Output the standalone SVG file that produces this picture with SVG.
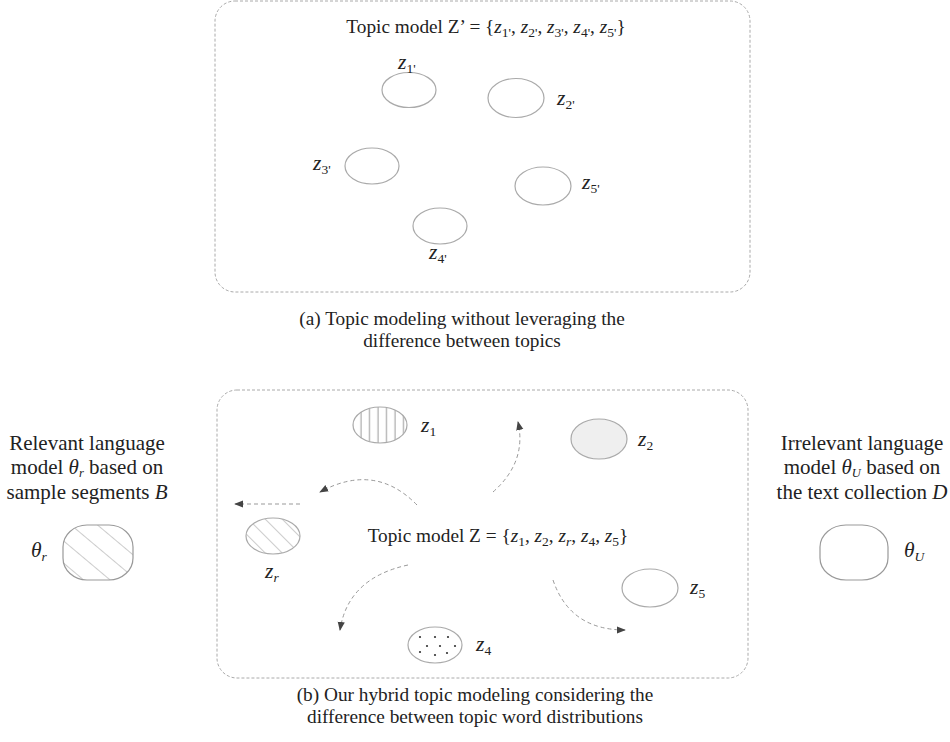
<svg xmlns="http://www.w3.org/2000/svg" width="950" height="742" viewBox="0 0 950 742">
<style>
text{font-family:"Liberation Serif","Times New Roman",serif;fill:#222;font-size:19.3px}
.i{font-style:italic}
.box{fill:none;stroke:#aaa;stroke-width:1;stroke-dasharray:3,2}
.el{fill:#fff;stroke:#aaa;stroke-width:1.2}
.h{stroke:#999;stroke-width:1}
.arr{fill:none;stroke:#999;stroke-width:1;stroke-dasharray:4,3;marker-end:url(#ah)}
.lbl{font-size:21.5px;font-style:italic}
.s{font-size:13.5px}
.ss{font-size:12.5px}
.side{font-size:21px}
</style>
<defs>
<marker id="ah" viewBox="0 0 10 10" refX="9" refY="5" markerWidth="9" markerHeight="9" markerUnits="userSpaceOnUse" orient="auto">
<path d="M0,1 L10,5 L0,9 Z" fill="#444"/>
</marker>
<pattern id="vert" patternUnits="userSpaceOnUse" x="0" y="0" width="8.5" height="10">
<line x1="4" y1="0" x2="4" y2="10" class="h"/>
</pattern>
<pattern id="diag" patternUnits="userSpaceOnUse" width="12" height="12" patternTransform="rotate(-45)">
<line x1="0" y1="0" x2="0" y2="12" class="h"/>
</pattern>
<pattern id="diag2" patternUnits="userSpaceOnUse" width="17" height="17" patternTransform="rotate(-50)">
<line x1="0" y1="0" x2="0" y2="17" class="h"/>
</pattern>
</defs>

<g id="panel-a">
<rect class="box" x="215" y="1" width="535" height="291" rx="20"/>
<text x="486" y="33" text-anchor="middle" font-size="20.5">Topic model Z’ = {<tspan class="i">z</tspan><tspan class="s" dy="4">1'</tspan><tspan dy="-4">, </tspan><tspan class="i">z</tspan><tspan class="s" dy="4">2'</tspan><tspan dy="-4">, </tspan><tspan class="i">z</tspan><tspan class="s" dy="4">3'</tspan><tspan dy="-4">, </tspan><tspan class="i">z</tspan><tspan class="s" dy="4">4'</tspan><tspan dy="-4">, </tspan><tspan class="i">z</tspan><tspan class="s" dy="4">5'</tspan><tspan dy="-4">}</tspan></text>
</g>
<g id="z1p"><ellipse class="el" cx="409" cy="90" rx="27" ry="17.5"/><text class="lbl" x="398" y="69">z<tspan class="s" font-style="normal" dy="4">1'</tspan></text></g>
<g id="z2p"><ellipse class="el" cx="516" cy="98" rx="28" ry="19.5"/><text class="lbl" x="557" y="105">z<tspan class="s" font-style="normal" dy="4">2'</tspan></text></g>
<g id="z3p"><ellipse class="el" cx="372" cy="166" rx="27" ry="18"/><text class="lbl" x="313" y="170">z<tspan class="s" font-style="normal" dy="4">3'</tspan></text></g>
<g id="z5p"><ellipse class="el" cx="543" cy="186" rx="28" ry="19"/><text class="lbl" x="582" y="189">z<tspan class="s" font-style="normal" dy="4">5'</tspan></text></g>
<g id="z4p"><ellipse class="el" cx="440" cy="226" rx="27" ry="18"/><text class="lbl" x="429" y="259">z<tspan class="s" font-style="normal" dy="4">4'</tspan></text></g>
<g id="caption-a">
<text x="462" y="325" text-anchor="middle">(a) Topic modeling without leveraging the</text>
<text x="462" y="347" text-anchor="middle">difference between topics</text>
</g>

<g id="panel-b">
<rect class="box" x="217" y="390" width="531" height="288" rx="20"/>
<text x="498" y="542" text-anchor="middle" font-size="20.5">Topic model Z = {<tspan class="i">z</tspan><tspan class="s" dy="4">1</tspan><tspan dy="-4">, </tspan><tspan class="i">z</tspan><tspan class="s" dy="4">2</tspan><tspan dy="-4">, </tspan><tspan class="i">z</tspan><tspan class="i s" dy="4">r</tspan><tspan dy="-4">, </tspan><tspan class="i">z</tspan><tspan class="s" dy="4">4</tspan><tspan dy="-4">, </tspan><tspan class="i">z</tspan><tspan class="s" dy="4">5</tspan><tspan dy="-4">}</tspan></text>
</g>
<g id="z1"><ellipse cx="380" cy="425" rx="27" ry="18" fill="url(#vert)" stroke="#aaa" stroke-width="1.2"/><text class="lbl" x="421" y="432">z<tspan class="s" font-style="normal" dy="4">1</tspan></text></g>
<g id="z2"><ellipse cx="599" cy="439" rx="28" ry="20" fill="#efefef" stroke="#aaa" stroke-width="1.2"/><text class="lbl" x="638" y="446">z<tspan class="s" font-style="normal" dy="4">2</tspan></text></g>
<g id="zr"><ellipse cx="273" cy="536" rx="27" ry="18" fill="url(#diag)" stroke="#aaa" stroke-width="1.2"/><text class="lbl" x="265" y="578">z<tspan class="s" dy="4">r</tspan></text></g>
<g id="z5"><ellipse class="el" cx="650" cy="588" rx="28" ry="19"/><text class="lbl" x="690" y="594">z<tspan class="s" font-style="normal" dy="4">5</tspan></text></g>
<g id="z4"><ellipse class="el" cx="435" cy="645" rx="27" ry="18"/>
<g fill="#333"><circle cx="420" cy="637" r="1.1"/><circle cx="435" cy="637" r="1.1"/><circle cx="448" cy="637" r="1.1"/><circle cx="427" cy="646" r="1.1"/><circle cx="440" cy="646" r="1.1"/><circle cx="455" cy="646" r="1.1"/><circle cx="420" cy="652" r="1.1"/><circle cx="435" cy="655" r="1.1"/><circle cx="447" cy="653" r="1.1"/></g>
<text class="lbl" x="476" y="651">z<tspan class="s" font-style="normal" dy="4">4</tspan></text></g>

<g id="connectors">
<path class="arr" d="M493,492 Q527,462 518,422"/>
<path class="arr" d="M417,505 Q375,462 320,492"/>
<path class="arr" d="M300,504 L235,504"/>
<path class="arr" d="M408,565 Q348,578 340,630"/>
<path class="arr" d="M553,580 Q570,630 625,630"/>
</g>

<g id="caption-b">
<text x="475" y="701" text-anchor="middle">(b) Our hybrid topic modeling considering the</text>
<text x="475" y="723" text-anchor="middle">difference between topic word distributions</text>
</g>

<g id="theta-r">
<text class="side" x="87" y="450" text-anchor="middle">Relevant language</text>
<text class="side" x="87" y="474" text-anchor="middle">model <tspan class="i">θ</tspan><tspan class="i ss" dy="2.5">r</tspan><tspan dy="-2.5"> based on</tspan></text>
<text class="side" x="87" y="499" text-anchor="middle">sample segments <tspan class="i">B</tspan></text>
<rect x="63" y="525" width="70" height="55" rx="24" ry="22" fill="url(#diag2)" stroke="#999" stroke-width="1.2"/>
<text class="lbl" x="31" y="557">θ<tspan class="s" dy="4">r</tspan></text>
</g>

<g id="theta-u">
<text class="side" x="862" y="450" text-anchor="middle">Irrelevant language</text>
<text class="side" x="862" y="474" text-anchor="middle">model <tspan class="i">θ</tspan><tspan class="i ss" dy="2.5">U</tspan><tspan dy="-2.5"> based on</tspan></text>
<text class="side" x="862" y="499" text-anchor="middle">the text collection <tspan class="i">D</tspan></text>
<rect x="820" y="525" width="68" height="55" rx="26" ry="22" fill="#fff" stroke="#999" stroke-width="1.2"/>
<text class="lbl" x="904" y="557">θ<tspan class="s" dy="4">U</tspan></text>
</g>
</svg>
